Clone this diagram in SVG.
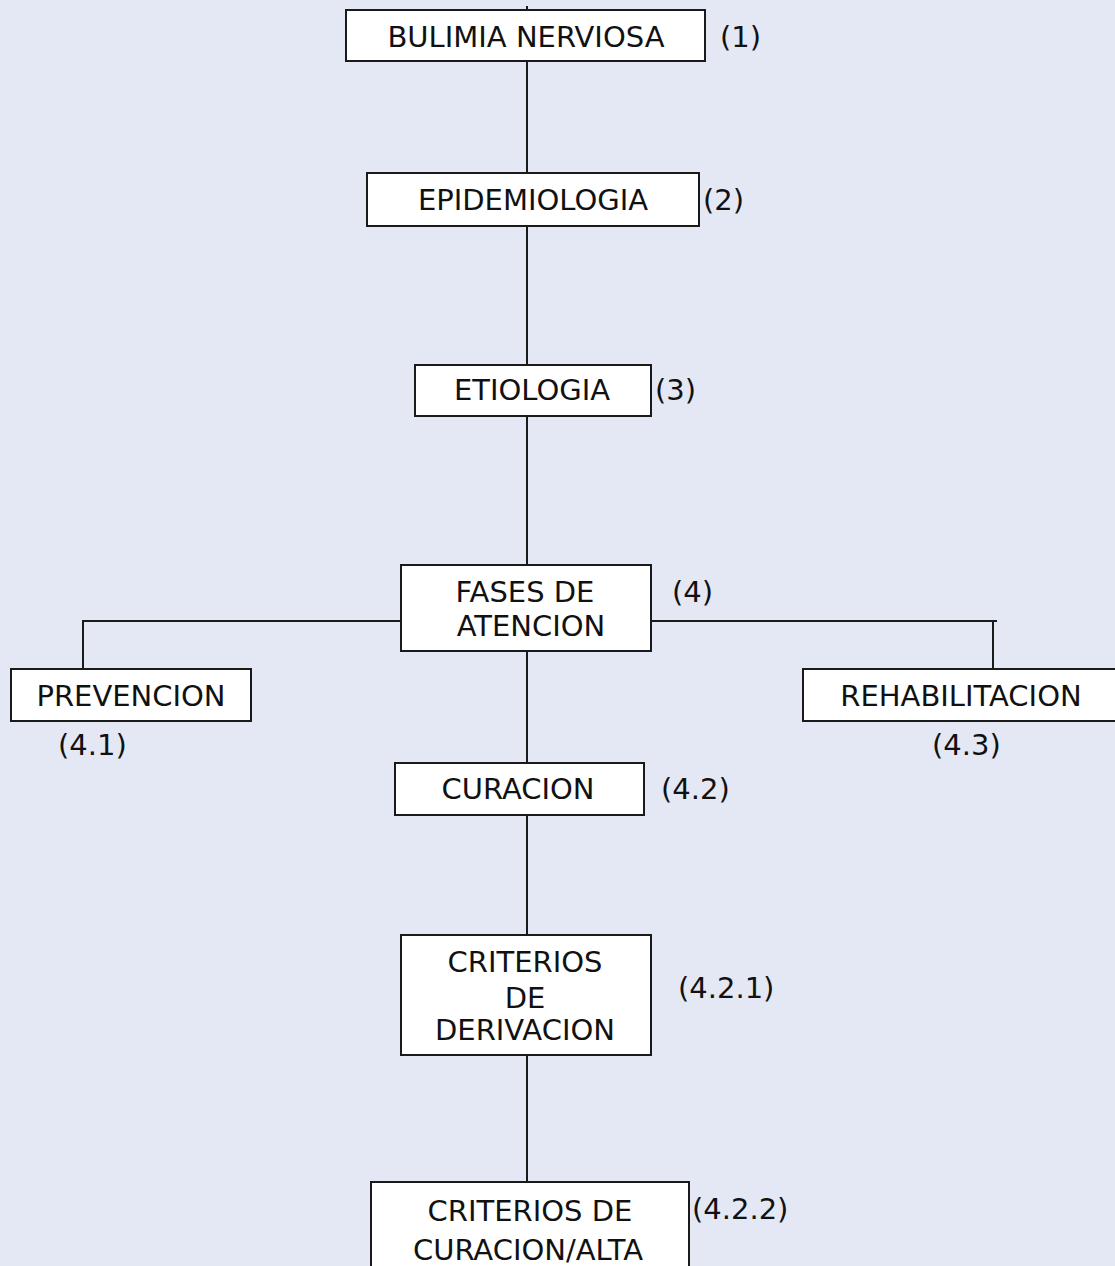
<svg xmlns="http://www.w3.org/2000/svg" width="1115" height="1266" viewBox="0 0 1115 1266">
  <style>
    .box { fill: #ffffff; stroke: #1a1a1a; stroke-width: 2; }
    .t { font-family: "DejaVu Sans", Verdana, sans-serif; font-size: 29px; fill: #111111; }
    .c { text-anchor: middle; }
    .link { stroke: #1a1a1a; stroke-width: 2; fill: none; }
  </style>
  <rect width="1115" height="1266" fill="#E4E8F4"/>

  <g id="connectors">
    <line class="link" x1="527" y1="6" x2="527" y2="10"/>
    <line class="link" x1="527" y1="61" x2="527" y2="173"/>
    <line class="link" x1="527" y1="226" x2="527" y2="365"/>
    <line class="link" x1="527" y1="416" x2="527" y2="565"/>
    <line class="link" x1="527" y1="651" x2="527" y2="763"/>
    <line class="link" x1="527" y1="815" x2="527" y2="935"/>
    <line class="link" x1="527" y1="1055" x2="527" y2="1182"/>
    <polyline class="link" points="401,621 83,621 83,669"/>
    <polyline class="link" points="651,621 997,621"/>
    <line class="link" x1="993" y1="621" x2="993" y2="669"/>
  </g>

  <g id="bulimia">
    <rect class="box" x="346" y="10" width="359" height="51"/>
    <text class="t c" x="526" y="47">BULIMIA NERVIOSA</text>
    <text class="t" x="720" y="47">(1)</text>
  </g>

  <g id="epidemiologia">
    <rect class="box" x="367" y="173" width="332" height="53"/>
    <text class="t c" x="533" y="210">EPIDEMIOLOGIA</text>
    <text class="t" x="703" y="210">(2)</text>
  </g>

  <g id="etiologia">
    <rect class="box" x="415" y="365" width="236" height="51"/>
    <text class="t c" x="532" y="400">ETIOLOGIA</text>
    <text class="t" x="655" y="400">(3)</text>
  </g>

  <g id="fases">
    <rect class="box" x="401" y="565" width="250" height="86"/>
    <text class="t c" x="525" y="602">FASES DE</text>
    <text class="t c" x="531" y="636">ATENCION</text>
    <text class="t" x="672" y="602">(4)</text>
  </g>

  <g id="prevencion">
    <rect class="box" x="11" y="669" width="240" height="52"/>
    <text class="t c" x="131" y="706">PREVENCION</text>
    <text class="t" x="58" y="755">(4.1)</text>
  </g>

  <g id="rehabilitacion">
    <rect class="box" x="803" y="669" width="320" height="52"/>
    <text class="t c" x="961" y="706">REHABILITACION</text>
    <text class="t" x="932" y="755">(4.3)</text>
  </g>

  <g id="curacion">
    <rect class="box" x="395" y="763" width="249" height="52"/>
    <text class="t c" x="518" y="799">CURACION</text>
    <text class="t" x="661" y="799">(4.2)</text>
  </g>

  <g id="derivacion">
    <rect class="box" x="401" y="935" width="250" height="120"/>
    <text class="t c" x="525" y="972">CRITERIOS</text>
    <text class="t c" x="525" y="1008">DE</text>
    <text class="t c" x="525" y="1040">DERIVACION</text>
    <text class="t" x="678" y="998">(4.2.1)</text>
  </g>

  <g id="alta">
    <rect class="box" x="371" y="1182" width="318" height="100"/>
    <text class="t c" x="530" y="1221">CRITERIOS DE</text>
    <text class="t c" x="528" y="1260">CURACION/ALTA</text>
    <text class="t" x="692" y="1219">(4.2.2)</text>
  </g>
</svg>
